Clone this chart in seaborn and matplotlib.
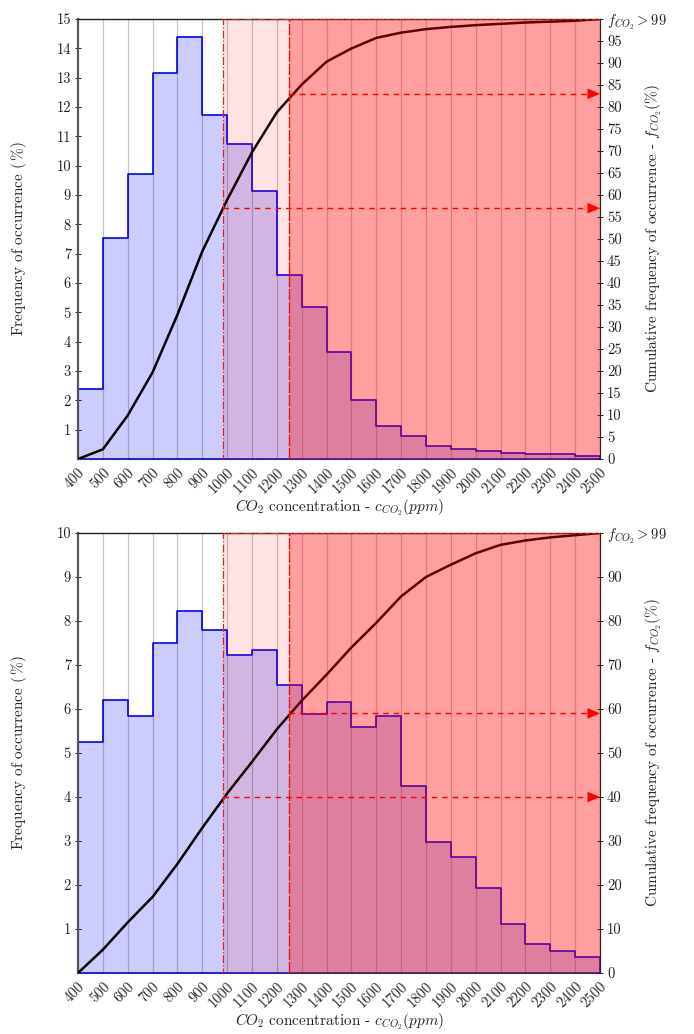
import numpy as np
import pandas as pd
import matplotlib
matplotlib.use("Agg")
import matplotlib.pyplot as plt
import seaborn as sns

# ---------------- data ----------------
bin_edges = [400, 500, 600, 700, 800, 900, 1000, 1100, 1200, 1300, 1400, 1500,
             1600, 1700, 1800, 1900, 2000, 2100, 2200, 2300, 2400, 2500]
xtick_labels = [str(v) for v in bin_edges]

freq_top = [2.38, 7.55, 9.73, 13.17, 14.37, 11.74, 10.74, 9.15, 6.26, 5.19, 3.65,
            2.00, 1.13, 0.77, 0.45, 0.33, 0.28, 0.20, 0.18, 0.16, 0.11]
cum_top = [0, 2.2, 9.9, 19.7, 32.8, 47.2, 58.9, 69.7, 78.8, 85.1, 90.3, 93.3,
           95.7, 96.9, 97.7, 98.2, 98.6, 98.9, 99.2, 99.4, 99.6, 100]

freq_bot = [5.26, 6.20, 5.84, 7.49, 8.23, 7.80, 7.22, 7.33, 6.55, 5.88, 6.17,
            5.58, 5.83, 4.24, 2.98, 2.63, 1.94, 1.12, 0.67, 0.51, 0.36]
cum_bot = [0, 5.3, 11.5, 17.3, 24.8, 33.0, 40.8, 48.0, 55.4, 61.9, 67.8, 74.0,
           79.6, 85.6, 90.0, 92.8, 95.4, 97.3, 98.3, 99.0, 99.5, 100]

zone_limits = [985, 1250]          # ppm, start of light and dark red zones
marks_top = [57, 83]               # cumulative % at the zone limits
marks_bot = [40, 59]

left_max = [15, 10]
right_ticks_top = list(range(0, 100, 5))
right_ticks_bot = list(range(0, 100, 10))
top_label = r"$f_{CO_2} > 99$"

# ---------------- style ----------------
sns.set_style("white")
plt.rcParams["font.family"] = ["cmr10", "DejaVu Serif"]
plt.rcParams["mathtext.fontset"] = "cm"
plt.rcParams["axes.unicode_minus"] = False
plt.rcParams["axes.formatter.use_mathtext"] = True
FS = 10.5
LFS = 11

fig = plt.figure(figsize=(6.94, 10.34), dpi=100)
W, H = 694, 1034
x0, x1 = 78, 600
panels = [(19, 459), (533, 973)]

datasets = [
    (freq_top, cum_top, marks_top, left_max[0], right_ticks_top),
    (freq_bot, cum_bot, marks_bot, left_max[1], right_ticks_bot),
]

for (ytop, ybot), (freq, cum, marks, lmax, rticks) in zip(panels, datasets):
    ax = fig.add_axes([x0 / W, 1 - ybot / H, (x1 - x0) / W, (ybot - ytop) / H])
    centers = [(a + b) / 2 for a, b in zip(bin_edges[:-1], bin_edges[1:])]
    df = pd.DataFrame({"co2": centers, "freq": freq})
    sns.histplot(data=df, x="co2", weights="freq", bins=bin_edges,
                 element="step", fill=True, color="blue", alpha=0.2,
                 linewidth=1.2, ax=ax, zorder=1)
    ax.set_xlim(400, 2500)
    ax.set_ylim(0, lmax)
    # vertical grid
    for xv in bin_edges[1:-1]:
        ax.axvline(xv, color="black", alpha=0.22, lw=0.9, zorder=2)

    ax.set_yticks(range(1, lmax + 1))
    ax.set_yticklabels([str(v) for v in range(1, lmax + 1)], fontsize=FS)
    ax.set_xticks(bin_edges)
    ax.set_xticklabels(xtick_labels, rotation=45, ha="right", va="top",
                       rotation_mode="anchor", fontsize=FS)
    ax.tick_params(axis="x", length=0, pad=5)
    ax.tick_params(axis="y", direction="inout", length=4, width=0.7,
                   colors="#222222", pad=3, left=True)
    ax.set_xlabel(r"$CO_2$ concentration - $c_{CO_2}(ppm)$", fontsize=LFS,
                  labelpad=1)
    ax.set_ylabel(r"Frequency of occurrence ($\,\%$)", fontsize=LFS)
    ax.yaxis.set_label_coords(-0.094, 0.5)
    for s in ["left", "right", "top", "bottom"]:
        ax.spines[s].set_visible(True)
    ax.spines["left"].set_color("#555555")
    ax.spines["left"].set_linewidth(1.6)
    ax.spines["top"].set_color("#222222")
    ax.spines["top"].set_linewidth(1.0)
    ax.spines["bottom"].set_color("#333355")
    ax.spines["bottom"].set_linewidth(0.8)
    ax.spines["bottom"].set_linestyle((0, (3, 2)))

    ax2 = ax.twinx()
    ax2.set_ylim(0, 100)
    sns.lineplot(x=bin_edges, y=cum, color="black", lw=1.8, ax=ax2,
                 zorder=2, solid_joinstyle="round", solid_capstyle="round")
    # zones
    ax2.axvspan(zone_limits[0], zone_limits[1], facecolor=(1, 0, 0, 0.11),
                edgecolor="#dd2222", linestyle="-.", lw=0.9, zorder=3)
    ax2.axvspan(zone_limits[1], 2500, facecolor=(1, 0, 0, 0.375),
                edgecolor="#ee1111", linestyle="--", lw=0.9, zorder=3)
    # marker lines with arrows
    for xs, yv in zip(zone_limits, marks):
        ax2.plot([xs, 2480], [yv, yv], color="red", ls=(0, (4, 3.5)), lw=1.0,
                 zorder=4)
        ax2.annotate("", xy=(2500, yv), xytext=(2440, yv),
                     arrowprops=dict(arrowstyle="-|>,head_length=0.9,head_width=0.38",
                                     color="red", lw=0.01, shrinkA=0, shrinkB=0),
                     zorder=5)
    ax2.set_yticks(rticks + [100])
    ax2.set_yticklabels([str(v) for v in rticks] + [top_label], fontsize=FS)
    ax2.tick_params(axis="y", direction="inout", length=4, width=0.7,
                    colors="#222222", pad=3, right=True)
    ax2.set_ylabel(r"Cumulative frequency of occurrence - $f_{CO_2}(\%)$",
                   fontsize=LFS)
    ax2.yaxis.set_label_coords(1.084, 0.5)
    ax2.spines["right"].set_color("#222222")
    ax2.spines["right"].set_linewidth(0.8)
    ax2.spines["top"].set_visible(False)
    ax2.spines["left"].set_visible(False)
    ax2.spines["bottom"].set_visible(False)
    ax2.grid(False)
    ax.grid(False)

fig.savefig("out.png", dpi=100)
